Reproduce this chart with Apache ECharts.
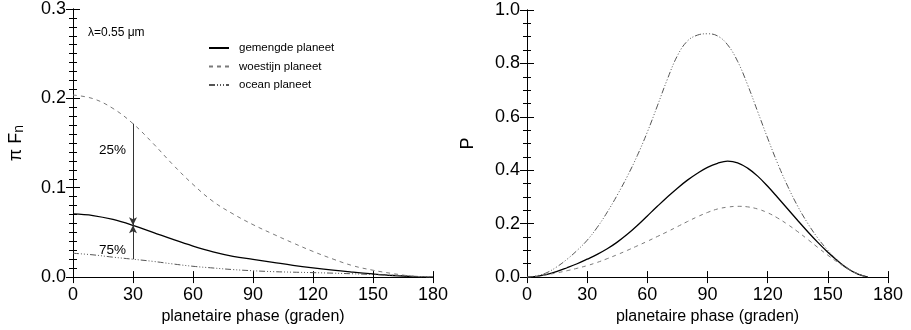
<!DOCTYPE html>
<html>
<head>
<meta charset="utf-8">
<script src="https://cdn.jsdelivr.net/npm/echarts@6/dist/echarts.min.js"></script>
<style>
  html, body { margin: 0; padding: 0; background: #fff; }
  #chart { width: 911px; height: 330px; }
</style>
</head>
<body>
<div id="chart"></div>
<script>
// left panel: pi F_n vs phase, every 10 degrees
const phaseLeft = [0, 10, 20, 30, 40, 50, 60, 70, 80, 90, 100, 110, 120, 130, 140, 150, 160, 170, 180];
const gemengdeF = [0.0707, 0.0689, 0.0645, 0.0579, 0.0501, 0.0421, 0.0347, 0.0283, 0.0233, 0.0198, 0.0165, 0.0132, 0.0103, 0.0077, 0.0055, 0.0035, 0.0018, 0.0006, 0];
const woestijnF = [0.2037, 0.1997, 0.1887, 0.1717, 0.1497, 0.1257, 0.1037, 0.0847, 0.0707, 0.0587, 0.0482, 0.0382, 0.0287, 0.0202, 0.0127, 0.0077, 0.0039, 0.001, 0];
const oceanF    = [0.0267, 0.0249, 0.0223, 0.020, 0.0176, 0.0147, 0.0121, 0.0102, 0.0084, 0.0071, 0.0061, 0.0055, 0.005, 0.0044, 0.0037, 0.0029, 0.002, 0.001, 0];

// right panel: polarisation P vs phase, every 5 degrees
const phaseRight = [0, 5, 10, 15, 20, 25, 30, 35, 40, 45, 50, 55, 60, 65, 70, 75, 80, 85, 90, 95, 100, 105, 110, 115, 120, 125, 130, 135, 140, 145, 150, 155, 160, 165, 170];
const gemengdeP = [0, 0.003, 0.010, 0.021, 0.035, 0.050, 0.067, 0.085, 0.106, 0.131, 0.160, 0.193, 0.229, 0.265, 0.300, 0.333, 0.363, 0.389, 0.411, 0.426, 0.434, 0.428, 0.408, 0.378, 0.340, 0.298, 0.255, 0.212, 0.170, 0.130, 0.093, 0.060, 0.031, 0.011, 0];
const woestijnP = [0, 0.003, 0.009, 0.016, 0.024, 0.033, 0.043, 0.055, 0.069, 0.084, 0.100, 0.117, 0.134, 0.152, 0.170, 0.189, 0.208, 0.226, 0.242, 0.255, 0.262, 0.265, 0.263, 0.255, 0.241, 0.221, 0.197, 0.170, 0.141, 0.111, 0.082, 0.055, 0.031, 0.012, 0];
const oceanP    = [0, 0.005, 0.017, 0.039, 0.067, 0.100, 0.138, 0.186, 0.243, 0.307, 0.377, 0.455, 0.543, 0.641, 0.741, 0.829, 0.884, 0.906, 0.911, 0.903, 0.870, 0.808, 0.720, 0.620, 0.520, 0.425, 0.340, 0.265, 0.201, 0.146, 0.100, 0.062, 0.033, 0.012, 0];

const names = ['gemengde planeet', 'woestijn planeet', 'ocean planeet'];
const arrowIdx = phaseLeft.indexOf(30);

const pairs = (xs, ys) => xs.map((x, i) => [x, ys[i]]);
const FONT = 'Liberation Sans, Arial, Helvetica, sans-serif';

const styles = [
  { color: '#000', width: 1.3, type: 'solid' },
  { color: '#7a7a7a', width: 1, type: [4, 4] },
  { color: '#555', width: 1, type: [6, 2, 1, 2, 1, 2, 1, 2] }
];

function xAxes(grid) {
  return [
    {
      type: 'value', gridIndex: grid, min: 0, max: 180, interval: 30,
      name: 'planetaire phase (graden)', nameLocation: 'middle', nameGap: 28,
      nameTextStyle: { fontFamily: FONT, fontSize: 16, color: '#000' },
      axisLine: { lineStyle: { color: '#000', width: 1 } },
      axisTick: { inside: true, length: 6, lineStyle: { color: '#000' } },
      axisLabel: { fontFamily: FONT, fontSize: 18, color: '#000', margin: 9 },
      splitLine: { show: false }
    },
    {
      type: 'value', gridIndex: grid, position: 'top', min: 0, max: 180, interval: 30,
      axisLine: { lineStyle: { color: '#000', width: 1 } },
      axisTick: { inside: true, length: 6, lineStyle: { color: '#000' } },
      axisLabel: { show: false },
      splitLine: { show: false }
    }
  ];
}

function yAxes(grid, max, interval, minor, name, gap, rich) {
  const common = {
    type: 'value', gridIndex: grid, min: 0, max: max, interval: interval,
    axisLine: { show: true, lineStyle: { color: '#000', width: 1 } },
    axisTick: { show: true, inside: true, length: 7, lineStyle: { color: '#000' } },
    minorTick: { show: true, splitNumber: minor, length: 4, lineStyle: { color: '#000' } },
    splitLine: { show: false }
  };
  return [
    Object.assign({}, common, {
      name: name, nameLocation: 'middle', nameGap: gap, nameRotate: 90,
      nameTextStyle: { fontFamily: FONT, fontSize: 18, color: '#000', rich: rich },
      axisLabel: { fontFamily: FONT, fontSize: 18, color: '#000', margin: 7, formatter: v => v.toFixed(1) }
    }),
    Object.assign({}, common, { position: 'right', axisLabel: { show: false } })
  ];
}

function lineSeries(name, data, s, xi, yi, extra) {
  return Object.assign({
    name: name, type: 'line', xAxisIndex: xi, yAxisIndex: yi,
    data: data, symbol: 'none', smooth: 0.4,
    lineStyle: { color: s.color, width: s.width, type: s.type },
    itemStyle: { color: s.color },
    z: 3
  }, extra || {});
}

const arrowLine = (from, to) => [
  { coord: [phaseLeft[arrowIdx], from[arrowIdx]] },
  { coord: [phaseLeft[arrowIdx], to[arrowIdx]] }
];

const chart = echarts.init(document.getElementById('chart'), null, { renderer: 'canvas' });

chart.setOption({
  animation: false,
  backgroundColor: '#fff',
  grid: [
    { left: 73, top: 8, width: 360, height: 273 },
    { left: 527, top: 10, width: 361, height: 273 }
  ],
  legend: {
    data: names,
    orient: 'vertical',
    left: 203, top: 37,
    itemWidth: 20, itemHeight: 12, itemGap: 6.5,
    selectedMode: false,
    itemStyle: { opacity: 0 },
    textStyle: { fontFamily: FONT, fontSize: 11.5, color: '#000', padding: [0, 0, 0, 5] }
  },
  graphic: [
    { type: 'text', left: 88, top: 27, style: { text: 'λ=0.55 μm', font: '12px ' + FONT, fill: '#000' } },
    { type: 'text', left: 99, top: 143, style: { text: '25%', font: '13.5px ' + FONT, fill: '#000' } },
    { type: 'text', left: 99, top: 243, style: { text: '75%', font: '13.5px ' + FONT, fill: '#000' } }
  ],
  xAxis: xAxes(0).concat(xAxes(1)),
  yAxis: yAxes(0, 0.3, 0.1, 10, 'π F{s|n}', 47, { s: { fontFamily: FONT, fontSize: 14, color: '#000', padding: [6, 0, 0, 0] } })
    .concat(yAxes(1, 1.0, 0.2, 4, 'P', 50)),
  series: [
    lineSeries(names[0], pairs(phaseLeft, gemengdeF), styles[0], 0, 0, {
      markLine: {
        silent: true,
        symbol: ['none', 'arrow'],
        symbolSize: [6, 8],
        label: { show: false },
        lineStyle: { color: '#333', width: 1, type: 'solid' },
        data: [arrowLine(woestijnF, gemengdeF), arrowLine(oceanF, gemengdeF)]
      }
    }),
    lineSeries(names[1], pairs(phaseLeft, woestijnF), styles[1], 0, 0),
    lineSeries(names[2], pairs(phaseLeft, oceanF), styles[2], 0, 0),
    lineSeries(names[0], pairs(phaseRight, gemengdeP), styles[0], 2, 2),
    lineSeries(names[1], pairs(phaseRight, woestijnP), styles[1], 2, 2),
    lineSeries(names[2], pairs(phaseRight, oceanP), styles[2], 2, 2)
  ]
});
</script>
</body>
</html>
